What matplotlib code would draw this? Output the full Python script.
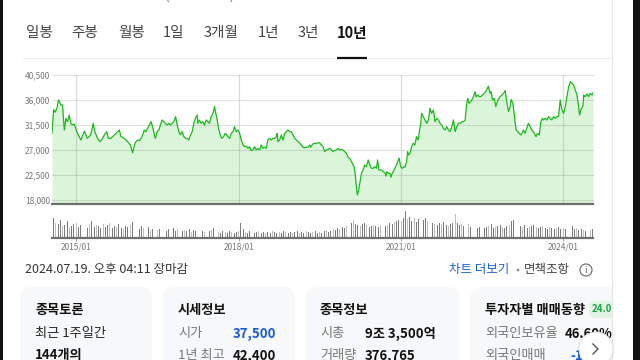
import matplotlib
matplotlib.use("Agg")
import matplotlib.pyplot as plt
import pandas as pd
from matplotlib.patches import FancyBboxPatch, Circle, Rectangle

plt.rcParams['font.family'] = ['Noto Sans CJK KR', 'DejaVu Sans']

# ---------------- data ----------------
tabs = ["일봉", "주봉", "월봉", "1일", "3개월", "1년", "3년", "10년"]
y_ticks = [18000, 22500, 27000, 31500, 36000, 40500]
x_tick_dates = ["2015-01-01", "2018-01-01", "2021-01-01", "2024-01-01"]
x_tick_labels = ["2015/01", "2018/01", "2021/01", "2024/01"]

price_dates = [
    "2014-07-21", "2014-08-01", "2014-08-11", "2014-08-23", "2014-09-03", "2014-09-19", "2014-09-30",
    "2014-10-12", "2014-10-23", "2014-11-03", "2014-11-14", "2014-11-25", "2014-12-06", "2014-12-17",
    "2015-01-09", "2015-02-01", "2015-02-24", "2015-03-17", "2015-04-08", "2015-04-25", "2015-05-06",
    "2015-05-24", "2015-06-12", "2015-06-28", "2015-07-09", "2015-07-25", "2015-08-05", "2015-08-23",
    "2015-09-15", "2015-10-07", "2015-10-18", "2015-10-30", "2015-11-21", "2015-12-13",
    "2016-01-01", "2016-01-16", "2016-02-01", "2016-02-08", "2016-02-19", "2016-03-02", "2016-03-13",
    "2016-03-24", "2016-04-04", "2016-04-15", "2016-04-26", "2016-05-08", "2016-05-19", "2016-05-30",
    "2016-06-11", "2016-06-18", "2016-06-29", "2016-07-11", "2016-07-22", "2016-08-02", "2016-08-13",
    "2016-08-25", "2016-09-05", "2016-09-16", "2016-09-27", "2016-10-09", "2016-10-20", "2016-11-01",
    "2016-11-12", "2016-11-23", "2016-12-04", "2016-12-15", "2016-12-27",
    "2017-01-07", "2017-01-18", "2017-01-29", "2017-02-10", "2017-02-21", "2017-03-04", "2017-03-15",
    "2017-03-27", "2017-03-31", "2017-04-11", "2017-04-23", "2017-05-04", "2017-05-15", "2017-05-27",
    "2017-06-07", "2017-06-18", "2017-06-29", "2017-07-11", "2017-07-22", "2017-07-28", "2017-08-07",
    "2017-08-18", "2017-08-29", "2017-09-09", "2017-09-21", "2017-10-02", "2017-10-13", "2017-10-20",
    "2017-11-01", "2017-11-12", "2017-11-23", "2017-12-04", "2017-12-15", "2017-12-27",
    "2018-01-07", "2018-01-18", "2018-01-30", "2018-02-10", "2018-02-21", "2018-03-04", "2018-03-15",
    "2018-03-26", "2018-04-07", "2018-04-18", "2018-04-29", "2018-05-10", "2018-05-22", "2018-06-02",
    "2018-06-13", "2018-06-25", "2018-07-06", "2018-07-17", "2018-07-29", "2018-08-09", "2018-08-20",
    "2018-09-01", "2018-09-12", "2018-09-18", "2018-09-23", "2018-10-04", "2018-10-16", "2018-10-27",
    "2018-11-07", "2018-11-18", "2018-11-30", "2018-12-11", "2018-12-22",
    "2019-01-03", "2019-01-14", "2019-01-25", "2019-02-05", "2019-02-17", "2019-02-28", "2019-03-11",
    "2019-03-22", "2019-04-03", "2019-04-14", "2019-04-25", "2019-05-02", "2019-05-11", "2019-05-22",
    "2019-06-09", "2019-06-20", "2019-07-01", "2019-07-13", "2019-07-24", "2019-08-04", "2019-08-15",
    "2019-08-27", "2019-09-07", "2019-09-18", "2019-09-29", "2019-10-11", "2019-10-22", "2019-11-02",
    "2019-11-13", "2019-11-25", "2019-12-06", "2019-12-17", "2019-12-29",
    "2020-01-09", "2020-01-20", "2020-02-01", "2020-02-12", "2020-02-19", "2020-02-28", "2020-03-06",
    "2020-03-12", "2020-03-21", "2020-03-28", "2020-04-08", "2020-04-19", "2020-05-01", "2020-05-12",
    "2020-05-24", "2020-06-04", "2020-06-15", "2020-06-26", "2020-07-08", "2020-07-19", "2020-07-26",
    "2020-08-04", "2020-08-11", "2020-08-22", "2020-09-03", "2020-09-14", "2020-09-21", "2020-09-27",
    "2020-10-07", "2020-10-18", "2020-10-24", "2020-11-02", "2020-11-09", "2020-11-20", "2020-12-01",
    "2020-12-13", "2020-12-19", "2020-12-29",
    "2021-01-09", "2021-01-20", "2021-01-27", "2021-02-07", "2021-02-14", "2021-02-21", "2021-03-02",
    "2021-03-13", "2021-03-24", "2021-04-04", "2021-04-15", "2021-04-26", "2021-05-08", "2021-05-14",
    "2021-05-19", "2021-05-31", "2021-06-11", "2021-06-22", "2021-07-04", "2021-07-15", "2021-07-26",
    "2021-08-07", "2021-08-18", "2021-08-29", "2021-09-10", "2021-09-21", "2021-10-02", "2021-10-13",
    "2021-10-25", "2021-11-05", "2021-11-16", "2021-11-27", "2021-12-09", "2021-12-20",
    "2022-01-01", "2022-01-12", "2022-01-23", "2022-02-04", "2022-02-15", "2022-02-26", "2022-03-09",
    "2022-03-20", "2022-03-27", "2022-04-05", "2022-04-16", "2022-04-23", "2022-05-04", "2022-05-15",
    "2022-05-22", "2022-06-03", "2022-06-12", "2022-06-23", "2022-07-04", "2022-07-15", "2022-07-26",
    "2022-08-07", "2022-08-13", "2022-08-25", "2022-09-01", "2022-09-10", "2022-09-21", "2022-10-02",
    "2022-10-16", "2022-11-01", "2022-11-12", "2022-11-23", "2022-12-04", "2022-12-15", "2022-12-27",
    "2023-01-07", "2023-01-14", "2023-01-25", "2023-02-03", "2023-02-10", "2023-02-17", "2023-02-26",
    "2023-03-09", "2023-03-20", "2023-03-27", "2023-04-07", "2023-04-18", "2023-04-29", "2023-05-10",
    "2023-05-22", "2023-06-02", "2023-06-13", "2023-06-24", "2023-07-01", "2023-07-10", "2023-07-23",
    "2023-08-02", "2023-08-13", "2023-08-20", "2023-08-31", "2023-09-12", "2023-09-23", "2023-10-04",
    "2023-10-15", "2023-10-27", "2023-11-07", "2023-11-18", "2023-11-29", "2023-12-11", "2023-12-22",
    "2024-01-03", "2024-01-14", "2024-01-25", "2024-02-06", "2024-02-17", "2024-02-28", "2024-03-10",
    "2024-03-21", "2024-04-02", "2024-04-13", "2024-04-20", "2024-05-01", "2024-05-12", "2024-05-17",
    "2024-05-28", "2024-06-09", "2024-06-20", "2024-07-01", "2024-07-12", "2024-07-19",
]
price_close = [
    30000, 34300, 33800, 34500, 36000, 35100, 35100,
    30600, 32700, 32100, 33300, 31800, 31500, 31700,
    30000, 28800, 30400, 29100, 29700, 31800, 30300,
    29100, 28500, 29100, 29700, 30300, 29100, 29100,
    29700, 30300, 30600, 29400, 29100, 28500,
    27900, 26500, 28200, 28500, 28800, 28700, 29100,
    29700, 30600, 30300, 30900, 31500, 32100, 31200,
    29700, 29100, 30300, 30600, 31500, 32400, 32100,
    31800, 31500, 31800, 31500, 31800, 32100, 33000,
    31500, 30300, 29700, 30300, 29400,
    29100, 29100, 28800, 29700, 30300, 31800, 32700,
    33300, 31800, 32400, 31800, 32100, 31500, 32400,
    32100, 31800, 33000, 33600, 34800, 33900, 32700,
    30900, 29700, 29100, 29400, 30000, 29700, 29400,
    29100, 30000, 30300, 31200, 30300, 30600,
    30000, 28800, 27900, 27600, 27700, 27300, 27600,
    26900, 27000, 27600, 27000, 27300, 27000, 27900,
    27300, 27500, 27300, 28800, 29100, 28800, 29100,
    29100, 29400, 30000, 28500, 28800, 29700, 28800,
    30000, 30300, 30600, 30300, 30300,
    29700, 29100, 28800, 28500, 28200, 27900, 27500,
    27400, 27500, 27500, 27900, 27500, 27900, 28200,
    28200, 28300, 28300, 27900, 27600, 26700, 27000,
    27100, 27300, 27100, 26700, 26900, 27000, 27300,
    27000, 27100, 27000, 26700, 26400,
    25700, 25500, 24900, 24300, 24000, 22200, 20100,
    18900, 19800, 21000, 22800, 23400, 24300, 24000,
    25200, 24300, 23700, 23700, 24000, 23700, 25200,
    23400, 23400, 23400, 23100, 22900, 22300, 23100,
    22800, 22800, 22100, 22800, 23100, 23700, 24300,
    25200, 25500, 24000,
    23700, 24000, 23900, 24900, 26700, 26100, 26400,
    27600, 28200, 27900, 29400, 28800, 30900, 31800,
    33600, 33000, 32400, 31800, 32400, 34500, 33600,
    34200, 32100, 32700, 32400, 31800, 31500, 30900,
    30600, 31200, 30600, 30300, 31200, 32400,
    30300, 31200, 31800, 31800, 32100, 32100, 32400,
    35400, 36300, 35400, 35700, 36000, 36600, 37500,
    36600, 36900, 36600, 36600, 36900, 37200, 37500,
    38100, 38500, 37200, 37500, 36000, 36300, 34800,
    36000, 36600, 36900, 37200, 37700, 35700, 33900,
    34800, 36100, 35400, 33600, 31800, 30600, 30300,
    30000, 29700, 30000, 30600, 30000, 30900, 31800,
    31200, 30600, 30300, 29700, 29400, 30000, 29700,
    32100, 32700, 32400, 32700, 32400, 33000, 32700,
    32400, 33000, 32700, 33000, 33000, 36000, 34200,
    33600, 34800, 36600, 38400, 39300, 39000, 38700,
    37800, 36900, 34800, 33300, 34500, 34800, 36900,
    36600, 37100, 36600, 37200, 36900, 37300,
]

# semi-monthly volume (thousand shares), starting 2014-08-01
vol_2014 = [2000, 1500, 1400, 1800, 1200, 1300, 1700, 1100, 1200, 1400]
vol_2015 = [1500, 1100, 1300, 1600, 1200, 1000, 1400, 1700, 1100, 1300, 1200, 1000,
            1400, 1100, 1300, 1500, 1000, 1200, 1100, 1400, 1000, 900, 1200, 1100]
vol_2016 = [1300, 1600, 1000, 1100, 900, 1200, 1000, 900, 1100, 800, 900, 1000,
            800, 900, 1200, 800, 700, 900, 800, 1000, 700, 900, 800, 700]
vol_2017 = [800, 700, 900, 600, 800, 700, 600, 800, 700, 600, 900, 700,
            800, 1000, 700, 600, 500, 700, 600, 500, 700, 600, 500, 600]
vol_2018 = [700, 1500, 900, 600, 500, 700, 600, 500, 600, 700, 500, 600,
            500, 600, 500, 700, 600, 500, 600, 500, 700, 600, 500, 600]
vol_2019 = [500, 600, 700, 500, 600, 500, 700, 600, 500, 600, 700, 500,
            600, 500, 700, 800, 600, 700, 900, 800, 1000, 900, 1100, 1000]
vol_2020 = [1200, 1300, 1500, 1800, 1400, 1300, 1200, 1400, 1500, 1300, 1100, 1200,
            1300, 1200, 1100, 1300, 1400, 1200, 1300, 1500, 1400, 1600, 1700, 1800]
vol_2021 = [1700, 2000, 2700, 1900, 2100, 1700, 2000, 1600, 1900, 1500, 1800, 2000,
            1700, 1600, 1500, 1400, 1300, 1500, 1400, 1600, 1300, 1200, 1400, 1500]
vol_2022 = [2400, 1500, 1300, 1400, 1200, 1300, 1400, 1100, 1200, 1300, 1000, 1100,
            1200, 1000, 1100, 1200, 1400, 1000, 1100, 1200, 1300, 1100, 1000, 1200]
vol_2023 = [1300, 1700, 1800, 1500, 1300, 1200, 1100, 1300, 1000, 1100, 1200, 1300,
            1100, 1000, 1100, 1200, 1000, 900, 1100, 1000, 900, 1000, 1100, 900]
vol_2024 = [1000, 900, 1100, 1400, 1200, 900, 1000, 800, 900, 800, 700, 900, 800, 900]
volumes = vol_2014 + vol_2015 + vol_2016 + vol_2017 + vol_2018 + vol_2019 + \
    vol_2020 + vol_2021 + vol_2022 + vol_2023 + vol_2024

# ---------------- figure ----------------
W, H = 640, 360
fig = plt.figure(figsize=(6.4, 3.6), dpi=100)
fig.patch.set_facecolor('white')

bg = fig.add_axes([0, 0, 1, 1], zorder=0)
bg.set_xlim(0, W)
bg.set_ylim(H, 0)
bg.axis('off')

# cut-off title at the very top (only the lowest pixels are visible)
bg.text(163, -0.3, "(029780)", fontsize=13, color='#999999', va='baseline', ha='left', clip_on=False)

# tabs
tab_x = [26, 71, 118, 163, 204, 258, 298, 337]
for i, (t, x) in enumerate(zip(tabs, tab_x)):
    last = i == len(tabs) - 1
    bg.text(x, 33, t, fontsize=10.5, color='#111111' if last else '#444444',
            fontweight='bold' if last else 'normal', va='center', ha='left')
bg.plot([23, 612], [57.5, 57.5], color='#eeeeee', lw=0.8)
bg.plot([337, 367], [57.5, 57.5], color='#111111', lw=1.6, solid_capstyle='butt')

# ---------------- price chart ----------------
x0 = pd.Timestamp(price_dates[0])
x1 = pd.Timestamp(price_dates[-1])
pdates = pd.to_datetime(price_dates)
ymin = 17280
ax = fig.add_axes([52 / W, 1 - 204 / H, 541 / W, 129 / H], zorder=2)
ax.patch.set_alpha(0)
ax.fill_between(pdates, price_close, ymin, color='#dbf5db', lw=0, zorder=1)
for v in y_ticks:
    ax.axhline(v, color=(0.45, 0.45, 0.45, 0.22), lw=0.8, zorder=2, clip_on=False)
for d in x_tick_dates:
    ax.axvline(pd.Timestamp(d), color=(0.45, 0.45, 0.45, 0.25), lw=0.8, zorder=2)
ax.plot(pdates, price_close, color='#1cb81c', lw=0.9, zorder=3)
ax.set_xlim(x0, x1)
ax.set_ylim(ymin, 40500)
ax.set_yticks(y_ticks)
ax.set_yticklabels([f"{v:,}" for v in y_ticks], fontsize=6, color='#777777')
ax.tick_params(axis='y', length=0, pad=1.5)
ax.set_xticks([])
for s in ['top', 'right', 'left']:
    ax.spines[s].set_visible(False)
ax.spines['bottom'].set_color('#6f6f6f')
ax.spines['bottom'].set_linewidth(1.6)

# ---------------- volume chart ----------------
vdates = pd.date_range(price_dates[1], periods=len(volumes), freq='SMS')
vcolors = ['#bdbdbd' if i % 3 == 1 else '#7a7a7a' for i in range(len(volumes))]
vax = fig.add_axes([52 / W, 1 - 238 / H, 541 / W, 28 / H], zorder=2)
vax.patch.set_alpha(0)
vax.bar(vdates, volumes, width=6, color=vcolors, lw=0)
vax.set_xlim(x0, x1)
vax.set_ylim(0, 2750)
vax.set_yticks([])
vax.set_xticks(pd.to_datetime(x_tick_dates))
vax.set_xticklabels(x_tick_labels, fontsize=6, color='#777777')
vax.tick_params(axis='x', length=2, width=0.6, color='#999999', pad=1.0)
for s in ['top', 'right', 'left']:
    vax.spines[s].set_visible(False)
vax.spines['bottom'].set_color('#6f6f6f')
vax.spines['bottom'].set_linewidth(1.6)

# ---------------- status row ----------------
bg.text(25, 270, "2024.07.19. 오후 04:11 장마감", fontsize=9, color='#333333', va='center', ha='left')
bg.text(449, 270, "차트 더보기", fontsize=9, color='#1a5fd6', va='center', ha='left')
bg.add_patch(Circle((518, 270), 1.3, facecolor='#888888', edgecolor='none'))
bg.text(524, 270, "면책조항", fontsize=9, color='#444444', va='center', ha='left')
bg.add_patch(Circle((586, 270), 6, facecolor='none', edgecolor='#666666', lw=0.8))
bg.text(586, 270.5, "i", fontsize=6.5, color='#666666', va='center', ha='center')

# ---------------- cards ----------------
cards = [(20, 132), (163, 132), (306, 153), (470, 170)]
for cx, cw in cards:
    bg.add_patch(FancyBboxPatch((cx, 287), cw, 100, boxstyle='round,pad=0,rounding_size=11',
                                facecolor='#f7f8fa', edgecolor='none', zorder=1))

tb = dict(fontsize=9.5, va='center', ha='left', zorder=2)
bg.text(35, 310, "종목토론", color='#111111', fontweight='bold', **tb)
bg.text(35, 334, "최근 1주일간", color='#222222', **tb)
bg.text(35, 355, "144개의", color='#111111', fontweight='bold', **tb)

bg.text(178, 310, "시세정보", color='#111111', fontweight='bold', **tb)
bg.text(178, 334, "시가", color='#777777', **tb)
bg.text(233, 334, "37,500", color='#1a5ad8', fontweight='bold', **tb)
bg.text(178, 356, "1년 최고", color='#777777', **tb)
bg.text(233, 356, "42,400", color='#111111', fontweight='bold', **tb)

bg.text(320, 310, "종목정보", color='#111111', fontweight='bold', **tb)
bg.text(320, 334, "시총", color='#777777', **tb)
bg.text(365, 334, "9조 3,500억", color='#111111', fontweight='bold', **tb)
bg.text(320, 356, "거래량", color='#777777', **tb)
bg.text(365, 356, "376,765", color='#111111', fontweight='bold', **tb)

bg.text(485, 310, "투자자별 매매동향", color='#111111', fontweight='bold', **tb)
bg.add_patch(FancyBboxPatch((589, 301), 34, 17, boxstyle='round,pad=0,rounding_size=7',
                            facecolor='#e2f5e5', edgecolor='none', zorder=2))
bg.text(592, 309.5, "24.07", fontsize=7, color='#22a045', fontweight='bold', va='center', ha='left', zorder=3)
bg.text(485, 334, "외국인보유율", color='#777777', **tb)
bg.text(565, 334, "46.60%", color='#111111', fontweight='bold', **tb)
bg.text(485, 356, "외국인매매", color='#777777', **tb)
bg.text(570, 356, "-1", color='#1a5ad8', fontweight='bold', **tb)

# right side mask, divider and black border
bg.add_patch(Rectangle((612.5, 0), 21, H, facecolor='white', edgecolor='none', zorder=4))
bg.plot([612, 612], [0, H], color='#e6e6e6', lw=0.8, zorder=5)
bg.add_patch(Rectangle((633, 0), 7, H, facecolor='#111111', edgecolor='none', zorder=8))
bg.add_patch(Rectangle((0, 0), 2.5, H, facecolor='#111111', edgecolor='none', zorder=8))

# scroll button
bg.add_patch(Circle((596, 349), 18.5, facecolor='#000000', alpha=0.05, edgecolor='none', zorder=6))
bg.add_patch(Circle((596, 349), 17, facecolor='white', edgecolor='#e2e2e2', lw=0.6, zorder=7))
bg.plot([593, 598, 593], [344, 349, 354], color='#555555', lw=1.0, zorder=7.5,
        solid_joinstyle='miter')

fig.savefig("out.png", dpi=100, facecolor='white')
